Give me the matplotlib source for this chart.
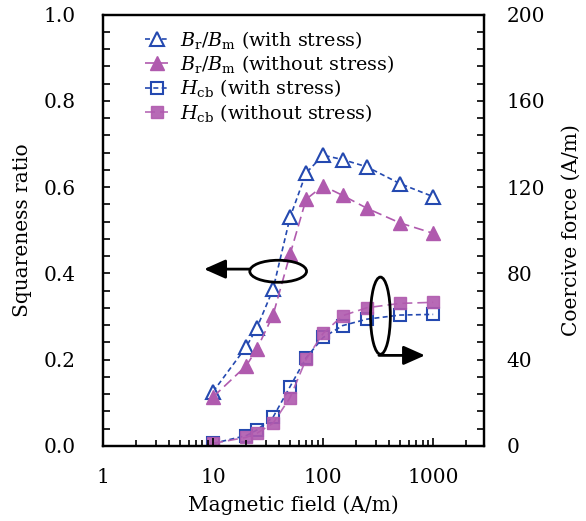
import matplotlib.pyplot as plt
from matplotlib.patches import Ellipse

plt.rcParams["font.family"] = "DejaVu Serif"
plt.rcParams["mathtext.fontset"] = "dejavuserif"
plt.rcParams["font.size"] = 14.5

# applied field (A/m)
field = [10, 20, 25, 35, 50, 70, 100, 150, 250, 500, 1000]

# squareness ratio Br/Bm
sq_stress = [0.126, 0.230, 0.274, 0.363, 0.530, 0.633, 0.674, 0.664, 0.647, 0.608, 0.578]
sq_free = [0.114, 0.186, 0.225, 0.303, 0.444, 0.572, 0.603, 0.581, 0.551, 0.517, 0.493]

# coercive force Hcb (A/m)
hcb_stress = [1.2, 4.8, 7.4, 13.3, 27.5, 40.9, 50.3, 55.8, 58.8, 60.7, 61.0]
hcb_free = [1.2, 4.0, 5.9, 10.5, 22.4, 40.2, 52.2, 60.4, 64.1, 66.1, 66.6]

BLUE = "#2449b0"
PURPLE = "#b05aae"

fig = plt.figure(figsize=(5.86, 5.21), dpi=100)
ax = fig.add_axes([0.176, 0.144, 0.650, 0.828])
ax2 = ax.twinx()

l1, = ax.plot(field, sq_stress, linestyle=(0, (3, 2)), color=BLUE, lw=1.2,
              marker="^", ms=9.5, mfc="white", mec=BLUE, mew=1.5,
              label=r"$B_\mathrm{r}/B_\mathrm{m}$ (with stress)")
l2, = ax.plot(field, sq_free, linestyle=(0, (6, 3)), color=PURPLE, lw=1.2,
              marker="^", ms=9.5, mfc=PURPLE, mec=PURPLE,
              label=r"$B_\mathrm{r}/B_\mathrm{m}$ (without stress)")
l3, = ax2.plot(field, hcb_stress, linestyle=(0, (3, 2)), color=BLUE, lw=1.2,
               marker="s", ms=8.5, mfc="none", mec=BLUE, mew=1.5,
               label=r"$H_\mathrm{cb}$ (with stress)")
l4, = ax2.plot(field, hcb_free, linestyle=(0, (6, 3)), color=PURPLE, lw=1.2,
               marker="s", ms=8.5, mfc=PURPLE, mec=PURPLE, alpha=0.9,
               label=r"$H_\mathrm{cb}$ (without stress)")
ax.set_zorder(ax2.get_zorder() + 1)
ax.patch.set_visible(False)

ax.set_xscale("log")
ax.set_xlim(1, 2900)
ax.set_ylim(0, 1.0)
ax2.set_ylim(0, 200)
ax.set_xticks([1, 10, 100, 1000])
ax.set_xticklabels(["1", "10", "100", "1000"])
ax.set_yticks([0, 0.2, 0.4, 0.6, 0.8, 1.0])
ax.set_yticklabels(["0.0", "0.2", "0.4", "0.6", "0.8", "1.0"])
ax.set_yticks([i * 0.04 for i in range(26)], minor=True)
ax2.set_yticks([0, 40, 80, 120, 160, 200])
ax2.set_yticks([i * 8 for i in range(26)], minor=True)

ax.set_xlabel("Magnetic field (A/m)", labelpad=6)
ax.set_ylabel("Squareness ratio", labelpad=8)
ax2.set_ylabel("Coercive force (A/m)", labelpad=12)

for a in (ax, ax2):
    for s in a.spines.values():
        s.set_linewidth(1.6)
    a.tick_params(which="both", direction="in", width=1.2)
    a.tick_params(which="major", length=6)
    a.tick_params(which="minor", length=4)
ax.tick_params(axis="x", which="both", top=False, pad=16)
ax.tick_params(axis="y", which="both", length=5, pad=20)
ax2.tick_params(axis="y", which="both", length=5, pad=16)

# loops and arrows marking which axis each group belongs to
ax.add_patch(Ellipse((0.4595, 0.405), 0.149, 0.051, transform=ax.transAxes,
                     fill=False, ec="black", lw=2, zorder=5))
ax.annotate("", xy=(0.265, 0.41), xytext=(0.385, 0.41),
            xycoords="axes fraction",
            arrowprops=dict(arrowstyle="-|>,head_length=0.9,head_width=0.4",
                            color="black", lw=2, shrinkA=0, shrinkB=0))
ax.add_patch(Ellipse((0.728, 0.302), 0.052, 0.179, transform=ax.transAxes,
                     fill=False, ec="black", lw=2, zorder=5))
ax.annotate("", xy=(0.845, 0.210), xytext=(0.724, 0.210),
            xycoords="axes fraction",
            arrowprops=dict(arrowstyle="-|>,head_length=0.9,head_width=0.4",
                            color="black", lw=2, shrinkA=0, shrinkB=0))

ax.legend(handles=[l1, l2, l3, l4], loc="upper left",
          bbox_to_anchor=(0.09, 0.985), frameon=False, handlelength=1.2,
          handletextpad=0.6, labelspacing=0.12, borderaxespad=0,
          fontsize=13.8)

fig.savefig("out.png", dpi=100)
